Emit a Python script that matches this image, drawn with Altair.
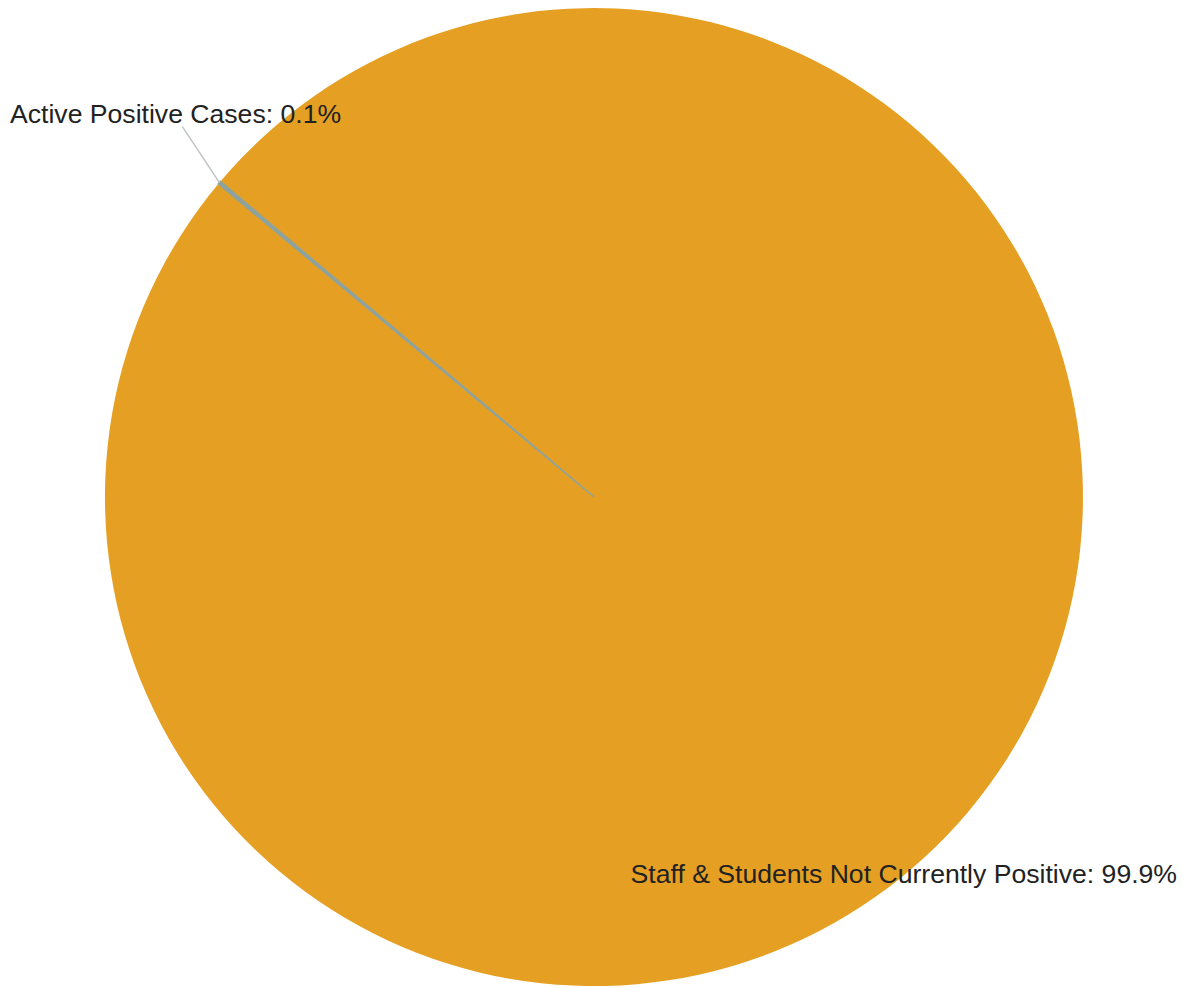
import math
import altair as alt
import pandas as pd

categories = ["Active Positive Cases", "Staff & Students Not Currently Positive"]
values = [0.1, 99.9]
colors = ["#8ea29e", "#e5a024"]

start_deg = 309.82
start = math.radians(start_deg)

W, H = 1172, 978
R = 489
cx, cy = W / 2, H / 2

df = pd.DataFrame({
    "category": categories,
    "value": values,
    "idx": list(range(len(categories))),
    "label": [f"{c}: {v}%" for c, v in zip(categories, values)],
})

theta_scale = alt.Scale(domain=[0, sum(values)], range=[start, start + 2 * math.pi])
color_scale = alt.Scale(domain=categories, range=colors)

base = alt.Chart(df).transform_window(
    cum="sum(value)", sort=[alt.SortField("idx")]
).transform_calculate(
    cum0="datum.cum - datum.value"
)

pie = base.mark_arc(outerRadius=R, strokeWidth=0).encode(
    theta=alt.Theta("cum0:Q", scale=theta_scale),
    theta2="cum:Q",
    color=alt.Color("category:N", legend=None, scale=color_scale),
)

small = base.transform_filter(alt.datum.idx == 0).mark_arc(
    outerRadius=R, strokeWidth=1.6, stroke=colors[0]
).encode(
    theta=alt.Theta("cum0:Q", scale=theta_scale),
    theta2="cum:Q",
    color=alt.Color("category:N", legend=None, scale=color_scale),
)

# leader line from the small slice edge to its label
mid = start + math.radians(values[0] / sum(values) * 360) / 2
lx0 = cx + R * math.sin(mid)
ly0 = cy - R * math.cos(mid)
leader = base.transform_filter(alt.datum.idx == 0).mark_rule(
    color="#bfc4c4", strokeWidth=1.5
).encode(
    x=alt.value(lx0), y=alt.value(ly0),
    x2=alt.value(lx0 - 37), y2=alt.value(ly0 - 56),
)

font = "Liberation Sans"
lab1 = base.transform_filter(alt.datum.idx == 0).mark_text(
    align="left", baseline="alphabetic", fontSize=26.6, font=font, color="#222222"
).encode(text="label:N", x=alt.value(2), y=alt.value(115))

lab2 = base.transform_filter(alt.datum.idx == 1).mark_text(
    align="right", baseline="alphabetic", fontSize=26.6, font=font, color="#222222"
).encode(text="label:N", x=alt.value(1169), y=alt.value(875))

chart = alt.layer(pie, small, leader, lab1, lab2).properties(
    width=W, height=H, padding=0, autosize=alt.AutoSizeParams(type="none")
).configure_view(stroke=None)

chart.save("out.html", embed_options={"renderer": "svg", "actions": False})
